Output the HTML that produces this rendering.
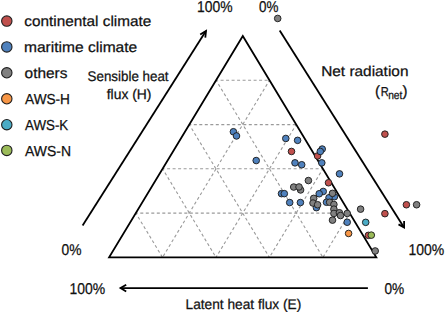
<!DOCTYPE html>
<html><head><meta charset="utf-8"><style>
html,body{margin:0;padding:0;background:#fff;width:445px;height:313px;overflow:hidden}
svg{display:block}
text{text-rendering:geometricPrecision;font-family:"Liberation Sans",sans-serif;fill:#111;stroke:#111;stroke-width:0.25px}
</style></head><body>
<svg width="445" height="313" viewBox="0 0 445 313">

<g stroke="#9a9a9a" stroke-width="1.1" stroke-dasharray="3 2.5" stroke-dashoffset="1" fill="none">
<line x1="216.1" y1="80.3" x2="269.5" y2="80.3"/>
<line x1="216.1" y1="80.3" x2="322.9" y2="257.4"/>
<line x1="269.5" y1="80.3" x2="162.5" y2="257.4"/>
<line x1="189.3" y1="124.6" x2="296.2" y2="124.6"/>
<line x1="189.3" y1="124.6" x2="269.4" y2="257.4"/>
<line x1="296.2" y1="124.6" x2="216.0" y2="257.4"/>
<line x1="162.6" y1="168.8" x2="322.9" y2="168.8"/>
<line x1="162.6" y1="168.8" x2="216.0" y2="257.4"/>
<line x1="322.9" y1="168.8" x2="269.4" y2="257.4"/>
<line x1="135.8" y1="213.1" x2="349.6" y2="213.1"/>
<line x1="135.8" y1="213.1" x2="162.5" y2="257.4"/>
<line x1="349.6" y1="213.1" x2="322.9" y2="257.4"/>
</g>
<polygon points="242.8,36.0 376.3,257.4 109.1,257.4" fill="none" stroke="#000" stroke-width="1.8" stroke-linejoin="miter"/>
<g stroke="#000" stroke-width="1.8" fill="none" stroke-linecap="butt">
<line x1="82.6" y1="225.5" x2="205.9" y2="31.0"/>
<polyline points="200.2,34.5 206.0,31.0 205.3,37.7"/>
<line x1="279.7" y1="30.5" x2="404.0" y2="227.4"/>
<polyline points="398.5,224.4 404.1,227.4 404.1,221.0"/>
<line x1="367.9" y1="288.1" x2="120.5" y2="288.1"/>
<polyline points="126.2,284.7 120.5,288.1 126.2,291.5"/>
</g>
<g stroke="#1f1f1f" stroke-width="0.95">
<circle cx="384.9" cy="134.15" r="3.3" fill="#C0504D"/>
<circle cx="291.5" cy="151.45" r="3.3" fill="#C0504D"/>
<circle cx="317.6" cy="155.95" r="3.3" fill="#C0504D"/>
<circle cx="328.5" cy="182.75" r="3.3" fill="#C0504D"/>
<circle cx="368.4" cy="235.35" r="3.3" fill="#C0504D"/>
<circle cx="384.9" cy="213.65" r="3.3" fill="#C0504D"/>
<circle cx="406.4" cy="204.75" r="3.3" fill="#C0504D"/>
<circle cx="233.4" cy="131.75" r="3.3" fill="#4F81BD"/>
<circle cx="236.5" cy="135.95" r="3.3" fill="#4F81BD"/>
<circle cx="256.2" cy="160.55" r="3.3" fill="#4F81BD"/>
<circle cx="285.8" cy="138.45" r="3.3" fill="#4F81BD"/>
<circle cx="297.6" cy="140.35" r="3.3" fill="#4F81BD"/>
<circle cx="322.2" cy="149.05" r="3.3" fill="#4F81BD"/>
<circle cx="320.3" cy="151.45" r="3.3" fill="#4F81BD"/>
<circle cx="321.8" cy="162.85" r="3.3" fill="#4F81BD"/>
<circle cx="295.0" cy="162.85" r="3.3" fill="#4F81BD"/>
<circle cx="301.7" cy="164.75" r="3.3" fill="#4F81BD"/>
<circle cx="339.5" cy="173.85" r="3.3" fill="#4F81BD"/>
<circle cx="281.5" cy="193.65" r="3.3" fill="#4F81BD"/>
<circle cx="284.3" cy="193.65" r="3.3" fill="#4F81BD"/>
<circle cx="289.7" cy="202.55" r="3.3" fill="#4F81BD"/>
<circle cx="300.4" cy="202.55" r="3.3" fill="#4F81BD"/>
<circle cx="323.2" cy="191.45" r="3.3" fill="#4F81BD"/>
<circle cx="319.2" cy="193.75" r="3.3" fill="#4F81BD"/>
<circle cx="316.4" cy="207.65" r="3.3" fill="#4F81BD"/>
<circle cx="334.4" cy="196.75" r="3.3" fill="#4F81BD"/>
<circle cx="329.0" cy="197.75" r="3.3" fill="#4F81BD"/>
<circle cx="326.5" cy="202.25" r="3.3" fill="#4F81BD"/>
<circle cx="347.2" cy="222.25" r="3.3" fill="#4F81BD"/>
<circle cx="277.7" cy="18.45" r="3.3" fill="#808080"/>
<circle cx="308.4" cy="180.55" r="3.3" fill="#808080"/>
<circle cx="293.7" cy="187.05" r="3.3" fill="#808080"/>
<circle cx="300.6" cy="189.95" r="3.3" fill="#808080"/>
<circle cx="299.0" cy="186.95" r="3.3" fill="#808080"/>
<circle cx="313.7" cy="198.35" r="3.3" fill="#808080"/>
<circle cx="313.0" cy="203.05" r="3.3" fill="#808080"/>
<circle cx="317.6" cy="204.75" r="3.3" fill="#808080"/>
<circle cx="332.5" cy="193.35" r="3.3" fill="#808080"/>
<circle cx="329.6" cy="202.25" r="3.3" fill="#808080"/>
<circle cx="333.9" cy="204.45" r="3.3" fill="#808080"/>
<circle cx="333.9" cy="209.15" r="3.3" fill="#808080"/>
<circle cx="333.9" cy="213.45" r="3.3" fill="#808080"/>
<circle cx="339.4" cy="212.75" r="3.3" fill="#808080"/>
<circle cx="340.5" cy="215.55" r="3.3" fill="#808080"/>
<circle cx="347.2" cy="213.45" r="3.3" fill="#808080"/>
<circle cx="332.5" cy="220.15" r="3.3" fill="#808080"/>
<circle cx="360.6" cy="209.15" r="3.3" fill="#808080"/>
<circle cx="375.2" cy="250.95" r="3.3" fill="#808080"/>
<circle cx="416.6" cy="204.75" r="3.3" fill="#808080"/>
<circle cx="348.6" cy="233.45" r="3.3" fill="#F79646"/>
<circle cx="365.7" cy="222.35" r="3.3" fill="#4BACC6"/>
<circle cx="371.3" cy="235.15" r="3.3" fill="#9BBB59"/>
</g>
<g stroke="#1f1f1f" stroke-width="1.1">
<circle cx="6.8" cy="21.1" r="5.2" fill="#C0504D"/>
<circle cx="6.8" cy="46.9" r="5.2" fill="#4F81BD"/>
<circle cx="6.8" cy="72.8" r="5.2" fill="#808080"/>
<circle cx="6.8" cy="98.8" r="5.2" fill="#F79646"/>
<circle cx="6.8" cy="124.7" r="5.2" fill="#4BACC6"/>
<circle cx="6.8" cy="150.4" r="5.2" fill="#9BBB59"/>
</g>
<text x="197.0" y="11.7" font-size="15.6" textLength="35.51" lengthAdjust="spacingAndGlyphs">100%</text>
<text x="259.03" y="11.7" font-size="15.6" textLength="19.43" lengthAdjust="spacingAndGlyphs">0%</text>
<text x="61.48" y="254.95" font-size="15.6" textLength="19.94" lengthAdjust="spacingAndGlyphs">0%</text>
<text x="408.41" y="254.75" font-size="15.6" textLength="35.79" lengthAdjust="spacingAndGlyphs">100%</text>
<text x="69.46" y="293.65" font-size="15.6" textLength="35.66" lengthAdjust="spacingAndGlyphs">100%</text>
<text x="384.38" y="293.65" font-size="15.6" textLength="19.74" lengthAdjust="spacingAndGlyphs">0%</text>
<text x="87.56" y="80.8" font-size="14.0" textLength="81.01" lengthAdjust="spacingAndGlyphs">Sensible heat</text>
<text x="106.72" y="99.0" font-size="14.0" textLength="44.73" lengthAdjust="spacingAndGlyphs">flux (H)</text>
<text x="321.18" y="76.1" font-size="14.2" textLength="87.28" lengthAdjust="spacingAndGlyphs">Net radiation</text>
<text x="185.53" y="309.1" font-size="14.0" textLength="115.76" lengthAdjust="spacingAndGlyphs">Latent heat flux (E)</text>
<text x="24.37" y="26.0" font-size="14.5" textLength="126.9" lengthAdjust="spacingAndGlyphs">continental climate</text>
<text x="23.97" y="52.0" font-size="14.5" textLength="113.25" lengthAdjust="spacingAndGlyphs">maritime climate</text>
<text x="24.62" y="77.9" font-size="14.5" textLength="42.86" lengthAdjust="spacingAndGlyphs">others</text>
<text x="25.06" y="103.5" font-size="14.5" textLength="44.89" lengthAdjust="spacingAndGlyphs">AWS-H</text>
<text x="25.06" y="129.8" font-size="14.5" textLength="43.17" lengthAdjust="spacingAndGlyphs">AWS-K</text>
<text x="25.06" y="155.5" font-size="14.5" textLength="45.89" lengthAdjust="spacingAndGlyphs">AWS-N</text>
<text x="375.0" y="96.0" font-size="15">(</text>
<text x="380.7" y="95.9" font-size="13" textLength="8" lengthAdjust="spacingAndGlyphs">R</text>
<text x="388.2" y="99.1" font-size="11.5" textLength="14.2" lengthAdjust="spacingAndGlyphs">net</text>
<text x="402.6" y="96.0" font-size="15">)</text>
</svg></body></html>
